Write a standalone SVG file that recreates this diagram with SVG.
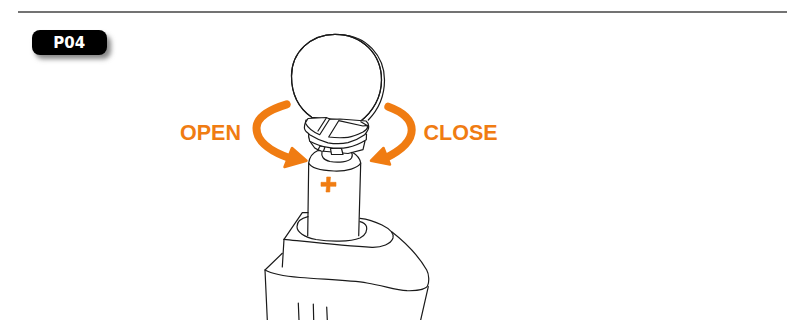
<svg xmlns="http://www.w3.org/2000/svg" width="805" height="320" viewBox="0 0 805 320">
<defs>
<style>
.l{fill:none;stroke:#1a1a1a;stroke-width:1.2;stroke-linecap:round;stroke-linejoin:round}
.w{fill:#fff;stroke:#1a1a1a;stroke-width:1.2;stroke-linejoin:round}
.a{fill:none;stroke:#f07c12;stroke-width:8;stroke-linecap:round}
.h{fill:#f07c12;stroke:#f07c12;stroke-width:2.5;stroke-linejoin:round}
.t{font-family:"Liberation Sans",Arial,sans-serif;font-weight:700;font-size:21.5px;fill:#f07c12}
</style>
<filter id="blur" x="-20%" y="-40%" width="140%" height="180%"><feGaussianBlur stdDeviation="2.5"/></filter>
</defs>
<rect width="805" height="320" fill="#fff"/>
<line x1="18" y1="12" x2="787" y2="12" stroke="#444" stroke-width="1.5"/>
<g id="badge">
<rect x="35" y="35" width="76" height="24" rx="8" fill="#888" filter="url(#blur)"/>
<rect x="32" y="30" width="75" height="25" rx="8" fill="#000"/>
<text x="69.300" y="47.700" text-anchor="middle" font-family="'DejaVu Sans',sans-serif" font-weight="700" font-size="15" fill="#fff">P04</text>
</g>
<g id="device">
<path class="l" d="M267.300 320L265 270L282.300 253.300"/>
<path class="l" d="M428.300 286.700L420.700 320"/>
<path class="l" d="M265 270C272 274 282 276 300 277.500C325 279.500 350 280 367 283C385 286 395 290 407 290.700C418 291 426 289 427.500 286C429.500 282 429 274 426.700 270C418 255 405 242 391.700 231.700"/>
<path class="l" d="M284 239.300L282.300 267"/>
<path class="l" d="M284 239.300L302.300 212.700H308"/>
<path class="l" d="M284 239.300C310 242 345 246 372 247.300C382 247.500 391 244 393 238C394 234 390 229 382 225C375 221.500 367 219 360 218.300"/>
<path class="l" d="M308 216.700C300 218.500 297 222 297 226.700C297 232 304 237 316 239.500C330 242 350 242 360 238C366 235 367.500 230 366.500 226.500C365.500 224 363 222.500 360 221.700"/>
<path class="l" d="M298.300 303L299 320M313.300 304L313.700 320M326.700 307L327.300 320"/>
</g>
<g id="battery">
<path class="l" d="M308.700 163L307.700 235.700M360.700 163L358.700 235.700"/>
<path class="w" d="M308.700 163C309.500 157 312 153 318 150.500L352 152C357 155 360 158 360.700 163C358 168 347 171.500 334 171C321 170.500 311 168 308.700 163Z"/>
<path class="h" style="stroke-width:.6" d="M326.700 177H330.500L330 182.300H336V186.300H330L329.800 192H326L326.500 186.300H321V182.300H326.500Z"/>
</g>
<g id="disc">
<path class="l" d="M341.700 35C366 35.500 384.500 56 384.500 80C384.500 96 378 110 368.300 120"/>
<path class="w" d="M311.700 117.300C297 107 291.500 92 291.500 76C291.500 52 311 34.300 335 34.300C362 34.300 381.500 54 381.500 80C381.500 97 373 112 360 121.700Z" stroke="none"/>
<path class="l" d="M311.700 117.300C297 107 291.500 92 291.500 76C291.500 52 311 34.300 335 34.300C362 34.300 381.500 54 381.500 80C381.500 97 373 112 360 121.700"/>
</g>
<g id="cap">
<path class="w" d="M310.700 142.300L314.700 148C317 149.500 319 150.500 321.300 151L348 153.500L363 149.700L365 141L308.700 136Z"/>
<path class="l" d="M318 150L320 146L325 147L323.500 151"/>
<path class="w" d="M330.500 148.500L331.500 154.500H343L341.500 148.500Z"/>
<path class="l" d="M322 151.500C321 156 323 160 330 161.500C338 163 349 162 351.500 158C352.500 156 352.500 154 351.500 152.500"/>
<path class="w" d="M308.700 136.300L309.700 141.300C316 144.500 322 146.500 328 147.300C335 148.500 342 148.500 348 147.300C355 146 361 143 366.300 139.700L366.500 134L308.700 134Z"/>
<path class="w" d="M305.300 123C304 126 304 129 306 131.500C308 133 309 134 309.700 134.700C315 138 321 141 328 142.800C335 144 342 144 348 142.600C354 141 360 138 364.700 134.700C367 132 369 129 368.700 126.300C368.500 124 367.500 122 366 121L340 119L306 120Z"/>
<path class="w" d="M305.300 123L308 118.500L326.300 117.500L329.700 119L319.700 134.700C313 132 308 128 305.300 123Z"/>
<path class="l" d="M326.300 118L318 131"/>
<path class="w" d="M338.700 120.700L328.700 137C335 137.800 342 138 348 137.300C354 136.500 359 134 363 132C365.500 130.500 367.500 128.500 368 126.300C367 125.500 365 125.500 363 126L338.700 120.700Z"/>
<path class="l" d="M360.800 121.800L368 126"/>
</g>
<g id="connectors">
<path class="a" d="M286.700 104.300C268 110 256.500 118 256.500 128C256.500 142 272 152 290 158.300"/>
<path class="h" d="M306.500 160.700L292 148L284.500 167Z"/>
<path class="a" d="M388.300 106.700C403 112 411.700 120 411.700 130C411.700 141 400 151 385 158.300"/>
<path class="h" d="M371 160.700L383.500 148L390 164.500Z"/>
</g>
<g id="labels">
<text class="t" x="180" y="140">OPEN</text>
<text class="t" x="423.500" y="140">CLOSE</text>
</g>
</svg>
